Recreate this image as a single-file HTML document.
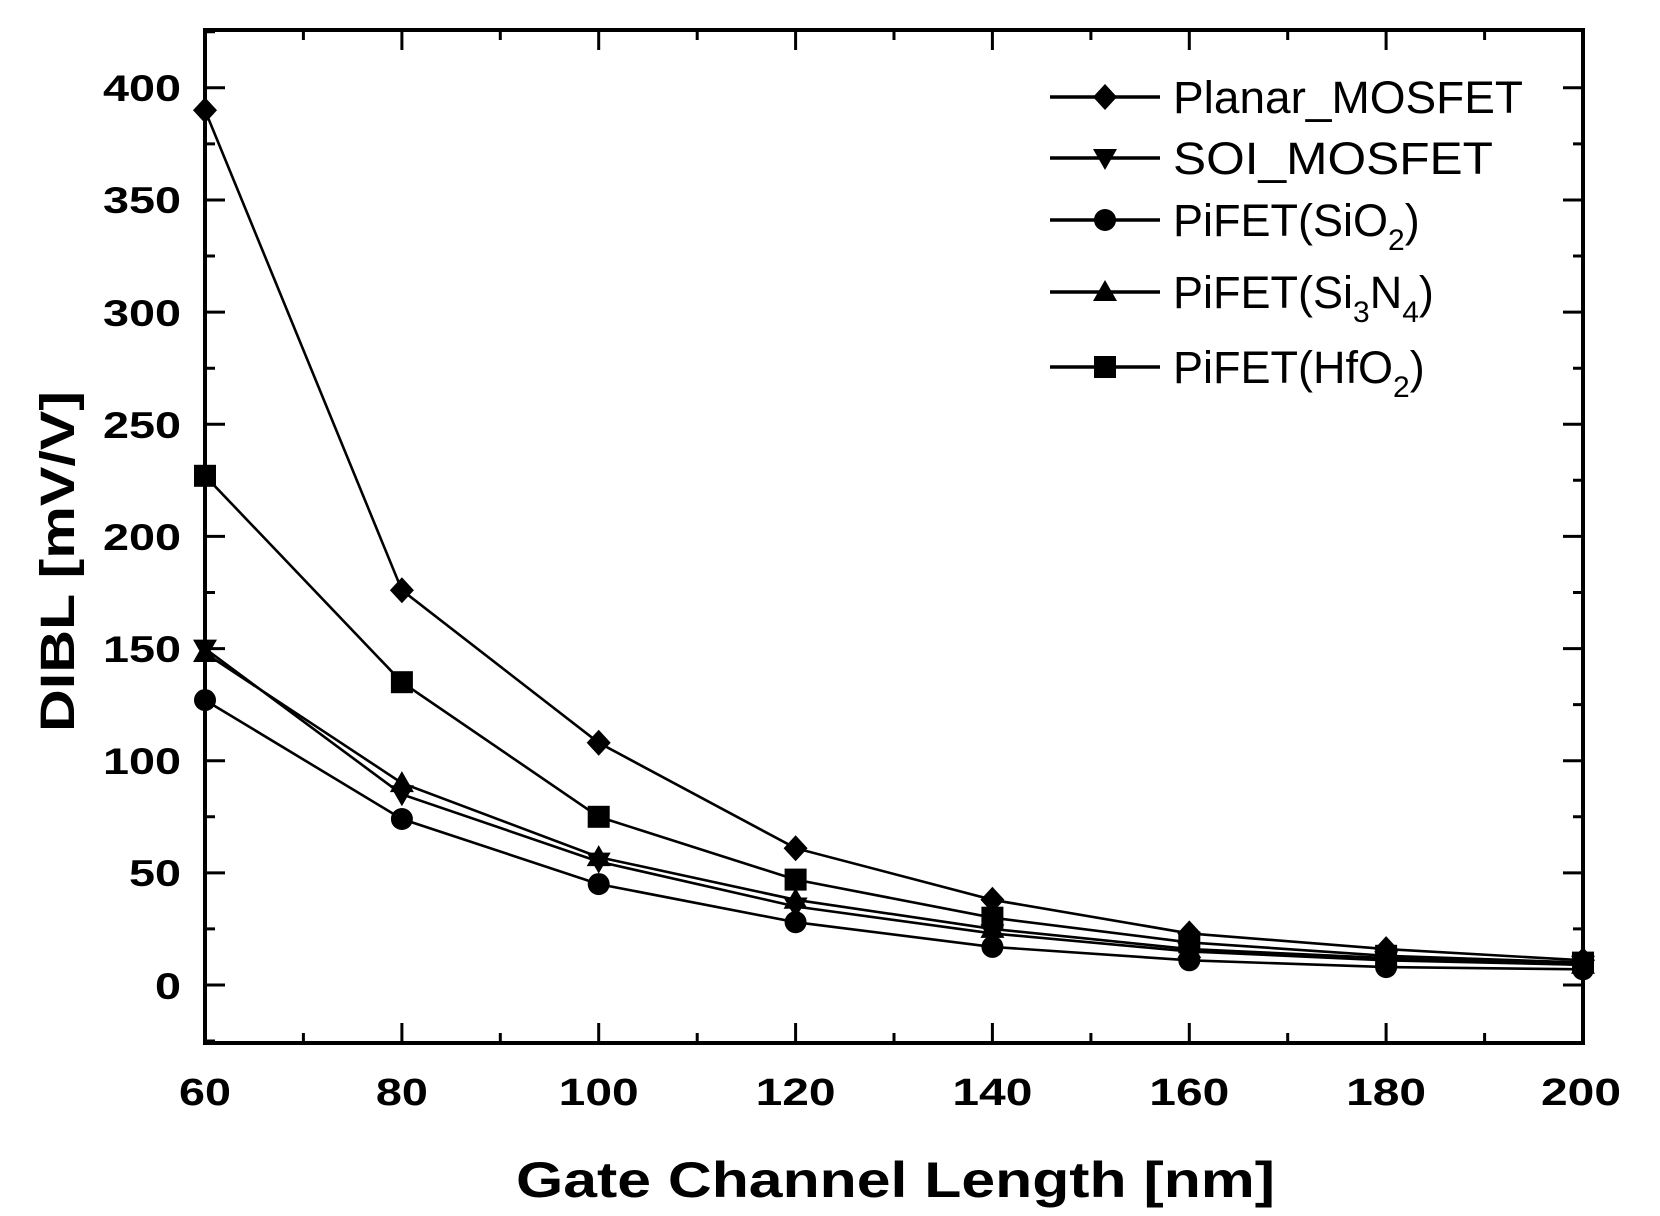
<!DOCTYPE html>
<html><head><meta charset="utf-8"><style>html,body{margin:0;padding:0;background:#fff;}svg{display:block}</style></head>
<body>
<svg width="1660" height="1216" viewBox="0 0 1660 1216" xmlns="http://www.w3.org/2000/svg" font-family="Liberation Sans, Arial, sans-serif">
<defs>
<path id="dia" d="M0,-13 L12,0 L0,13 L-12,0 Z"/>
<path id="dn" d="M-12,-9 L12,-9 L0,12 Z"/>
<circle id="cir" r="11"/>
<path id="up" d="M0,-12 L12,9 L-12,9 Z"/>
<rect id="sq" x="-11" y="-11" width="22" height="22"/>
</defs>
<g stroke="#000" stroke-width="3">
<path d="M401.9,1043v-20M598.7,1043v-20M795.6,1043v-20M992.4,1043v-20M1189.3,1043v-20M1386.1,1043v-20
M303.4,1043v-10M500.3,1043v-10M697.2,1043v-10M894,1043v-10M1090.9,1043v-10M1287.7,1043v-10M1484.6,1043v-10
M401.9,30v20M598.7,30v20M795.6,30v20M992.4,30v20M1189.3,30v20M1386.1,30v20
M303.4,30v10M500.3,30v10M697.2,30v10M894,30v10M1090.9,30v10M1287.7,30v10M1484.6,30v10"/>
<path d="M205,985h20M205,872.9h20M205,760.7h20M205,648.6h20M205,536.4h20M205,424.3h20M205,312.1h20M205,200h20M205,87.8h20
M205,1041h10M205,928.9h10M205,816.8h10M205,704.6h10M205,592.5h10M205,480.3h10M205,368.2h10M205,256h10M205,143.9h10M205,31.7h10
M1583,985h-20M1583,872.9h-20M1583,760.7h-20M1583,648.6h-20M1583,536.4h-20M1583,424.3h-20M1583,312.1h-20M1583,200h-20M1583,87.8h-20
M1583,928.9h-10M1583,816.8h-10M1583,704.6h-10M1583,592.5h-10M1583,480.3h-10M1583,368.2h-10M1583,256h-10M1583,143.9h-10"/>
</g>
<rect x="205" y="30" width="1378" height="1013" fill="none" stroke="#000" stroke-width="4"/>
<g fill="none" stroke="#000" stroke-width="2.6">
<polyline points="205,110.2 401.9,590.2 598.7,742.8 795.6,848.2 992.4,899.8 1189.3,933.4 1386.1,949.1 1583,960.3"/>
<polyline points="205,475.8 401.9,682.2 598.7,816.8 795.6,879.6 992.4,917.7 1189.3,942.4 1386.1,955.8 1583,962.6"/>
<polyline points="205,648.6 401.9,794.3 598.7,861.6 795.6,906.5 992.4,933.4 1189.3,951.4 1386.1,960.3 1583,964.8"/>
<polyline points="205,653 401.9,783.1 598.7,857.1 795.6,899.8 992.4,928.9 1189.3,949.1 1386.1,958.1 1583,964.8"/>
<polyline points="205,700.1 401.9,819 598.7,884.1 795.6,922.2 992.4,946.9 1189.3,960.3 1386.1,967.1 1583,969.3"/>
</g>
<g fill="#000">
<use href="#dia" x="205" y="110.2"/><use href="#dia" x="401.9" y="590.2"/><use href="#dia" x="598.7" y="742.8"/><use href="#dia" x="795.6" y="848.2"/><use href="#dia" x="992.4" y="899.8"/><use href="#dia" x="1189.3" y="933.4"/><use href="#dia" x="1386.1" y="949.1"/><use href="#dia" x="1583" y="960.3"/>
<use href="#sq" x="205" y="475.8"/><use href="#sq" x="401.9" y="682.2"/><use href="#sq" x="598.7" y="816.8"/><use href="#sq" x="795.6" y="879.6"/><use href="#sq" x="992.4" y="917.7"/><use href="#sq" x="1189.3" y="942.4"/><use href="#sq" x="1386.1" y="955.8"/><use href="#sq" x="1583" y="962.6"/>
<use href="#dn" x="205" y="648.6"/><use href="#dn" x="401.9" y="794.3"/><use href="#dn" x="598.7" y="861.6"/><use href="#dn" x="795.6" y="906.5"/><use href="#dn" x="992.4" y="933.4"/><use href="#dn" x="1189.3" y="951.4"/><use href="#dn" x="1386.1" y="960.3"/><use href="#dn" x="1583" y="964.8"/>
<use href="#up" x="205" y="653"/><use href="#up" x="401.9" y="783.1"/><use href="#up" x="598.7" y="857.1"/><use href="#up" x="795.6" y="899.8"/><use href="#up" x="992.4" y="928.9"/><use href="#up" x="1189.3" y="949.1"/><use href="#up" x="1386.1" y="958.1"/><use href="#up" x="1583" y="964.8"/>
<use href="#cir" x="205" y="700.1"/><use href="#cir" x="401.9" y="819"/><use href="#cir" x="598.7" y="884.1"/><use href="#cir" x="795.6" y="922.2"/><use href="#cir" x="992.4" y="946.9"/><use href="#cir" x="1189.3" y="960.3"/><use href="#cir" x="1386.1" y="967.1"/><use href="#cir" x="1583" y="969.3"/>
</g>
<g stroke="#000" stroke-width="3.5">
<path d="M1050,97h110M1050,158h110M1050,220h110M1050,292h110M1050,367h110"/>
</g>
<g fill="#000">
<use href="#dia" x="1105" y="97"/><use href="#dn" x="1105" y="158"/><use href="#cir" x="1105" y="220"/><use href="#up" x="1105" y="292"/><use href="#sq" x="1105" y="367"/>
</g>
<g font-size="45" fill="#000">
<text x="1173" y="113" textLength="350" lengthAdjust="spacingAndGlyphs">Planar_MOSFET</text>
<text x="1173" y="174" textLength="320" lengthAdjust="spacingAndGlyphs">SOI_MOSFET</text>
<text x="1173" y="236">PiFET(SiO<tspan font-size="30" dy="14">2</tspan><tspan dy="-14">)</tspan></text>
<text x="1173" y="308">PiFET(Si<tspan font-size="30" dy="14">3</tspan><tspan dy="-14">N</tspan><tspan font-size="30" dy="14">4</tspan><tspan dy="-14">)</tspan></text>
<text x="1173" y="383">PiFET(HfO<tspan font-size="30" dy="14">2</tspan><tspan dy="-14">)</tspan></text>
</g>
<g font-size="37" font-weight="bold" fill="#000" text-anchor="end">
<text x="181" y="101" textLength="78" lengthAdjust="spacingAndGlyphs">400</text>
<text x="181" y="213" textLength="78" lengthAdjust="spacingAndGlyphs">350</text>
<text x="181" y="326" textLength="78" lengthAdjust="spacingAndGlyphs">300</text>
<text x="181" y="438" textLength="78" lengthAdjust="spacingAndGlyphs">250</text>
<text x="181" y="550" textLength="78" lengthAdjust="spacingAndGlyphs">200</text>
<text x="181" y="662" textLength="78" lengthAdjust="spacingAndGlyphs">150</text>
<text x="181" y="774" textLength="78" lengthAdjust="spacingAndGlyphs">100</text>
<text x="181" y="886" textLength="52" lengthAdjust="spacingAndGlyphs">50</text>
<text x="181" y="999" textLength="26" lengthAdjust="spacingAndGlyphs">0</text>
</g>
<g font-size="38" font-weight="bold" fill="#000" text-anchor="middle">
<text x="205" y="1105" textLength="52" lengthAdjust="spacingAndGlyphs">60</text>
<text x="401.9" y="1105" textLength="52" lengthAdjust="spacingAndGlyphs">80</text>
<text x="598.7" y="1105" textLength="80" lengthAdjust="spacingAndGlyphs">100</text>
<text x="795.6" y="1105" textLength="80" lengthAdjust="spacingAndGlyphs">120</text>
<text x="992.4" y="1105" textLength="80" lengthAdjust="spacingAndGlyphs">140</text>
<text x="1189.3" y="1105" textLength="80" lengthAdjust="spacingAndGlyphs">160</text>
<text x="1386.1" y="1105" textLength="80" lengthAdjust="spacingAndGlyphs">180</text>
<text x="1581" y="1105" textLength="80" lengthAdjust="spacingAndGlyphs">200</text>
</g>
<text x="516" y="1197" font-size="50" font-weight="bold" textLength="759" lengthAdjust="spacingAndGlyphs">Gate Channel Length [nm]</text>
<text transform="translate(74,732) rotate(-90)" font-size="48" font-weight="bold" textLength="341" lengthAdjust="spacingAndGlyphs">DIBL [mV/V]</text>
</svg>
</body></html>
